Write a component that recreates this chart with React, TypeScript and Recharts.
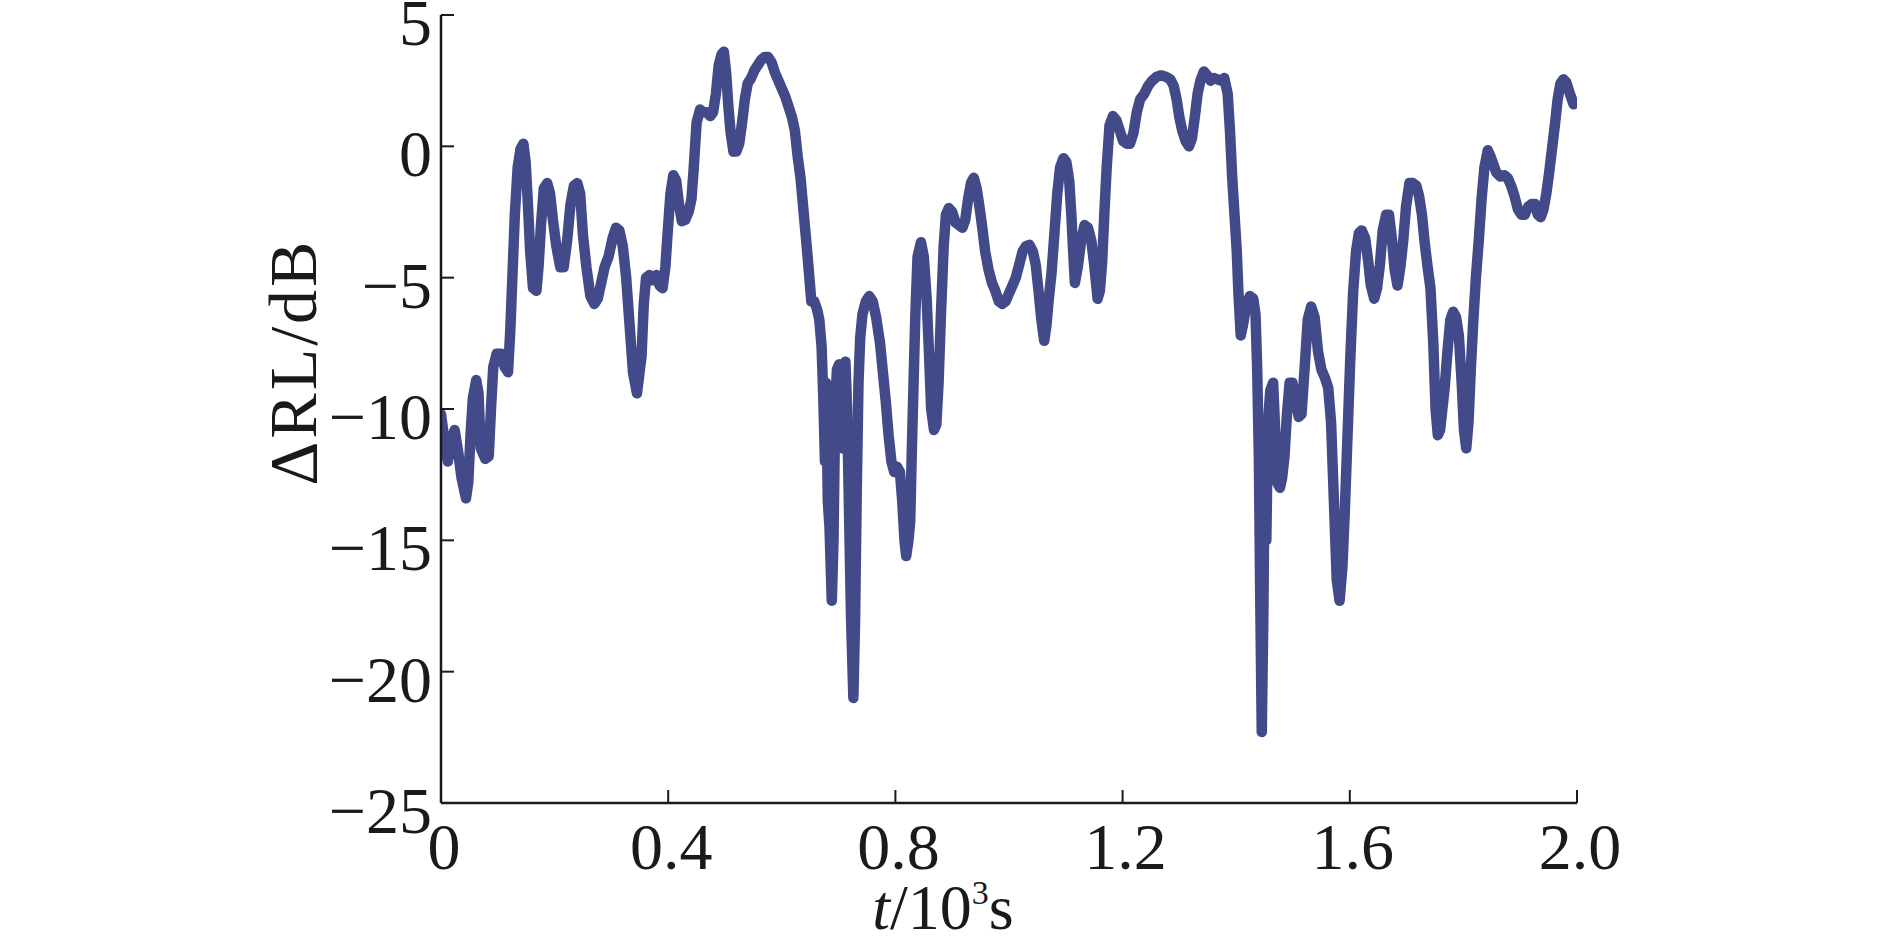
import { LineChart, Line, XAxis, YAxis } from 'recharts';

// time in 10^3 s
const timeK = [
  // 0 – 0.35
  0.000, 0.005, 0.012, 0.018, 0.024, 0.030, 0.036, 0.044, 0.048, 0.052,
  0.056, 0.062, 0.066, 0.070, 0.078, 0.084, 0.088, 0.092, 0.098, 0.106,
  0.112, 0.118, 0.122, 0.126, 0.130, 0.135, 0.140, 0.145, 0.149, 0.153,
  0.157, 0.162, 0.168, 0.172, 0.176, 0.181, 0.187, 0.192, 0.197, 0.203,
  0.210, 0.216, 0.222, 0.228, 0.234, 0.240, 0.245, 0.250, 0.256, 0.263,
  0.270, 0.276, 0.282, 0.288, 0.295, 0.302, 0.308, 0.314, 0.320, 0.326,
  0.332, 0.338, 0.345,
  // 0.35 – 0.66
  0.353, 0.357, 0.361, 0.367, 0.373, 0.379, 0.385, 0.390, 0.395, 0.399,
  0.404, 0.409, 0.414, 0.419, 0.424, 0.430, 0.436, 0.441, 0.445, 0.450,
  0.456, 0.462, 0.468, 0.474, 0.479, 0.484, 0.489, 0.494, 0.498, 0.502,
  0.506, 0.510, 0.515, 0.520, 0.525, 0.530, 0.535, 0.540, 0.546, 0.552,
  0.558, 0.564, 0.570, 0.576, 0.582, 0.588, 0.594, 0.600, 0.606, 0.612,
  0.618, 0.623, 0.628, 0.633, 0.638, 0.643, 0.647, 0.652, 0.657, 0.662,
  // 0.66 – 0.75
  0.666, 0.670, 0.673, 0.676, 0.678, 0.681, 0.684, 0.688, 0.691, 0.694,
  0.697, 0.701, 0.704, 0.707, 0.709, 0.712, 0.715, 0.718, 0.722, 0.726,
  0.729, 0.732, 0.735, 0.738, 0.742, 0.748, 0.754,
  // 0.76 – 1.40
  0.760, 0.766, 0.773, 0.778, 0.783, 0.788, 0.793, 0.798, 0.803, 0.808,
  0.812, 0.816, 0.819, 0.823, 0.826, 0.829, 0.832, 0.835, 0.839, 0.845,
  0.850, 0.855, 0.859, 0.863, 0.868, 0.872, 0.876, 0.880, 0.885, 0.889,
  0.894, 0.900, 0.906, 0.912, 0.918, 0.923, 0.928, 0.933, 0.938, 0.943,
  0.948, 0.953, 0.958, 0.964, 0.970, 0.976, 0.982, 0.988, 0.994, 1.000,
  1.006, 1.012, 1.018, 1.024, 1.030, 1.036, 1.042, 1.047, 1.052, 1.057,
  1.062, 1.066, 1.070, 1.075, 1.080, 1.085, 1.090, 1.096, 1.101, 1.106,
  1.110, 1.113, 1.116, 1.121, 1.127, 1.133, 1.139, 1.145, 1.150, 1.156,
  1.160, 1.164, 1.168, 1.172, 1.177, 1.183, 1.189, 1.195, 1.201, 1.207,
  1.213, 1.219, 1.225, 1.231, 1.238, 1.245, 1.252, 1.260, 1.268, 1.276,
  1.284, 1.290, 1.295, 1.300, 1.305, 1.311, 1.317, 1.322, 1.327, 1.332,
  1.337, 1.343, 1.349, 1.355, 1.361, 1.367, 1.373, 1.379, 1.385, 1.389,
  1.393, 1.397, 1.401,
  // 1.40 – 1.70
  1.404, 1.408, 1.412, 1.418, 1.424, 1.430, 1.434, 1.437, 1.440, 1.442,
  1.445, 1.448, 1.450, 1.453, 1.456, 1.460, 1.465, 1.468, 1.472, 1.477,
  1.481, 1.485, 1.489, 1.494, 1.499, 1.504, 1.510, 1.515, 1.520, 1.526,
  1.532, 1.538, 1.544, 1.550, 1.556, 1.562, 1.567, 1.572, 1.577, 1.582,
  1.587, 1.591, 1.596, 1.601, 1.606, 1.611, 1.616, 1.621, 1.627, 1.632,
  1.637, 1.643, 1.648, 1.653, 1.658, 1.664, 1.669, 1.674, 1.679, 1.684,
  1.689, 1.694, 1.699, 1.705,
  // 1.71 – 2.0
  1.711, 1.717, 1.722, 1.727, 1.732, 1.737, 1.742, 1.747, 1.751, 1.755,
  1.759, 1.763, 1.767, 1.772, 1.777, 1.782, 1.787, 1.792, 1.797, 1.801,
  1.805, 1.809, 1.813, 1.817, 1.822, 1.827, 1.832, 1.837, 1.843, 1.848,
  1.853, 1.858, 1.865, 1.872, 1.878, 1.884, 1.890, 1.896, 1.902, 1.908,
  1.914, 1.920, 1.926, 1.931, 1.936, 1.941, 1.946, 1.951, 1.956, 1.961,
  1.966, 1.971, 1.976, 1.981, 1.986, 1.990, 1.994,
];

// ΔRL in dB
const deltaRL = [
  // 0 – 0.35
  -10.2, -11.0, -12.0, -11.2, -10.8, -11.6, -12.6, -13.4, -12.8, -11.0,
  -9.6, -8.9, -9.4, -11.5, -11.9, -11.8, -10.0, -8.4, -7.9, -7.9,
  -8.4, -8.6, -7.0, -4.8, -2.6, -0.8, -0.1, 0.1, -0.6, -2.2,
  -4.0, -5.4, -5.5, -4.5, -3.0, -1.6, -1.4, -1.8, -2.8, -3.8,
  -4.6, -4.6, -3.6, -2.2, -1.5, -1.4, -1.8, -3.4, -4.6, -5.7,
  -6.0, -5.8, -5.2, -4.6, -4.2, -3.5, -3.1, -3.2, -3.8, -5.0,
  -6.8, -8.6, -9.4,
  // 0.35 – 0.66
  -8.0, -6.0, -5.0, -4.9, -5.1, -4.9, -5.3, -5.4, -4.6, -3.3,
  -1.8, -1.1, -1.3, -2.2, -2.85, -2.8, -2.5, -2.0, -0.8, 0.9,
  1.4, 1.3, 1.3, 1.15, 1.3, 2.0, 3.1, 3.5, 3.6, 2.8,
  1.5, 0.5, -0.2, -0.2, 0.1, 0.9, 1.8, 2.4, 2.6, 2.9,
  3.1, 3.3, 3.4, 3.4, 3.2, 2.8, 2.5, 2.2, 1.9, 1.5,
  1.1, 0.6, -0.4, -1.2, -2.4, -3.6, -4.6, -5.9, -5.9, -6.2,
  // 0.66 – 0.75
  -6.6, -7.6, -9.5, -12.0, -9.0, -13.5, -14.5, -17.3, -15.0, -10.0,
  -8.5, -8.3, -9.5, -11.5, -9.0, -8.2, -10.0, -13.5, -18.0, -21.0,
  -18.0, -13.0, -9.0, -7.3, -6.4, -5.9, -5.7,
  // 0.76 – 1.40
  -5.9, -6.5, -7.5, -8.6, -9.7, -11.0, -12.0, -12.4, -12.2, -12.4,
  -13.5, -15.0, -15.6, -15.0, -14.3, -11.5, -9.0, -6.5, -4.2, -3.65,
  -4.2, -5.8, -7.8, -10.0, -10.8, -10.6, -9.0, -6.5, -3.8, -2.6,
  -2.35, -2.5, -2.9, -3.0, -3.1, -2.8, -2.0, -1.4, -1.2, -1.6,
  -2.3, -3.1, -4.0, -4.7, -5.2, -5.5, -5.9, -6.0, -5.9, -5.6,
  -5.3, -5.0, -4.5, -4.0, -3.8, -3.75, -4.0, -4.5, -5.5, -6.6,
  -7.4, -6.8, -5.8, -4.8, -3.3, -1.8, -0.8, -0.45, -0.6, -1.3,
  -2.7, -4.0, -5.2, -4.6, -3.6, -3.0, -3.1, -3.6, -4.5, -5.8,
  -5.5, -4.4, -2.5, -0.8, 0.8, 1.15, 1.0, 0.6, 0.2, 0.1,
  0.1, 0.5, 1.3, 1.8, 2.0, 2.3, 2.5, 2.65, 2.7, 2.65,
  2.55, 2.3, 1.8, 1.1, 0.6, 0.2, 0.0, 0.3, 1.1, 2.0,
  2.5, 2.85, 2.7, 2.5, 2.6, 2.55, 2.5, 2.6, 2.0, 0.6,
  -1.2, -2.6, -4.0,
  // 1.40 – 1.70
  -5.6, -7.2, -6.8, -6.0, -5.7, -5.8, -6.4, -8.5, -12.0, -16.5,
  -22.3, -17.5, -12.0, -15.0, -10.5, -9.3, -9.0, -10.5, -12.8, -13.0,
  -12.6, -11.8, -10.3, -9.0, -9.0, -9.6, -10.3, -10.2, -8.6, -6.6,
  -6.1, -6.5, -7.8, -8.5, -8.8, -9.2, -10.5, -13.5, -16.5, -17.3,
  -16.0, -14.0, -11.0, -8.0, -5.5, -4.0, -3.3, -3.2, -3.5, -4.3,
  -5.3, -5.8, -5.4, -4.5, -3.2, -2.6, -2.6, -3.5, -4.7, -5.3,
  -4.6, -3.6, -2.3, -1.4,
  // 1.71 – 2.0
  -1.4, -1.5, -1.9, -2.6, -3.7, -4.6, -5.4, -7.5, -10.0, -11.0,
  -10.8, -10.0, -9.2, -7.8, -6.6, -6.3, -6.5, -7.2, -9.0, -10.8,
  -11.5, -10.5, -8.5, -6.8, -5.0, -3.6, -2.0, -0.8, -0.15, -0.4,
  -0.7, -1.0, -1.15, -1.1, -1.2, -1.5, -1.9, -2.4, -2.6, -2.6,
  -2.3, -2.2, -2.2, -2.6, -2.7, -2.4, -1.8, -1.0, -0.1, 0.8,
  1.8, 2.4, 2.55, 2.45, 2.1, 1.85, 1.6,
];

const xTicks = [0, 0.4, 0.8, 1.2, 1.6, 2.0];
const xTickLabels = ['0', '0.4', '0.8', '1.2', '1.6', '2.0'];
const yTicks = [-25, -20, -15, -10, -5, 0, 5];
const yTickLabels = ['\u221225', '\u221220', '\u221215', '\u221210', '\u22125', '0', '5'];

const data = timeK.map((t, i) => ({ t, rl: deltaRL[i] }));

const FONT = '"Liberation Serif", "Times New Roman", serif';
const INK = '#1a1a1a';
const LINE = '#424a8a';

function XTick({ x, y, payload }: any) {
  const idx = xTicks.indexOf(payload.value);
  return (
    <g>
      <line x1={x} x2={x} y1={y} y2={y - 13} stroke={INK} strokeWidth={2} />
      <text x={x + 3} y={y + 66} textAnchor="middle" fontFamily={FONT} fontSize={66} fill={INK}>
        {idx >= 0 ? xTickLabels[idx] : payload.value}
      </text>
    </g>
  );
}

function YTick({ x, y, payload }: any) {
  const idx = yTicks.indexOf(payload.value);
  return (
    <g>
      <line x1={x} x2={x + 13} y1={y} y2={y} stroke={INK} strokeWidth={2} />
      <text x={x - 9} y={y + 30} textAnchor="end" fontFamily={FONT} fontSize={66} fill={INK}>
        {idx >= 0 ? yTickLabels[idx] : payload.value}
      </text>
    </g>
  );
}

function YTitle() {
  return (
    <text
      x={316}
      y={362}
      transform="rotate(-90, 316, 362)"
      textAnchor="middle"
      fontFamily={FONT}
      fontSize={68}
      letterSpacing={3}
      fill={INK}
    >
      ΔRL/dB
    </text>
  );
}

function XTitle() {
  return (
    <text x={943} y={929} textAnchor="middle" fontFamily={FONT} fontSize={64} fill={INK}>
      <tspan fontStyle="italic">t</tspan>
      <tspan>/10</tspan>
      <tspan fontSize={34} dy={-25}>3</tspan>
      <tspan dy={25}>s</tspan>
    </text>
  );
}

export default function App() {
  return (
    <div style={{ position: 'absolute', left: 0, top: 0, width: 1890, height: 947, background: '#fff' }}>
      <LineChart
        width={1890}
        height={947}
        data={data}
        margin={{ top: 15, right: 313, bottom: 0, left: 0 }}
      >
        <XAxis
          dataKey="t"
          type="number"
          domain={[0, 2]}
          ticks={xTicks}
          allowDataOverflow
          height={144}
          tickSize={0}
          tickMargin={0}
          tickLine={false}
          tick={<XTick />}
          axisLine={{ stroke: INK, strokeWidth: 2.5 }}
          label={<XTitle />}
        />
        <YAxis
          type="number"
          domain={[-25, 5]}
          ticks={yTicks}
          allowDataOverflow
          width={441}
          tickSize={0}
          tickMargin={0}
          tickLine={false}
          tick={<YTick />}
          axisLine={{ stroke: INK, strokeWidth: 2.5 }}
          label={<YTitle />}
        />
        <Line
          type="linear"
          dataKey="rl"
          stroke={LINE}
          strokeWidth={10.5}
          strokeLinejoin="round"
          strokeLinecap="round"
          dot={false}
          activeDot={false}
          isAnimationActive={false}
        />
      </LineChart>
    </div>
  );
}
